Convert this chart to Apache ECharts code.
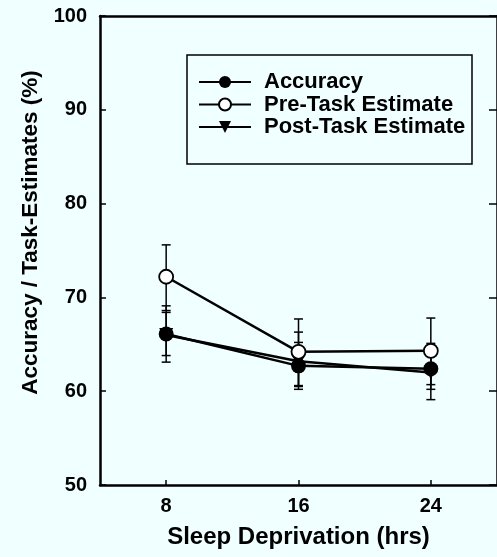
<!DOCTYPE html>
<html>
<head>
<meta charset="utf-8">
<script src="https://cdn.jsdelivr.net/npm/echarts@6/dist/echarts.min.js"></script>
<style>
html,body{margin:0;padding:0;background:#f0ffff;}
#chart{width:497px;height:557px;}
</style>
</head>
<body>
<div id="chart"></div>
<script>
// ---- data ----
var hours = [8, 16, 24];
var xTicks = [8, 16, 24];
var yTicks = [50, 60, 70, 80, 90, 100];

var accuracy     = [66.1, 62.7, 62.4];
var accuracyLow  = [63.1, 60.2, 60.2];
var accuracyHigh = [69.1, 65.2, 65.1];

var preTask      = [72.2, 64.2, 64.3];
var preLow       = [68.6, 60.6, 60.7];
var preHigh      = [75.6, 67.7, 67.8];

var postTask     = [66.0, 63.2, 62.0];
var postLow      = [63.8, 60.5, 59.1];
var postHigh     = [68.4, 66.3, 64.9];

var FONT = '"Liberation Sans", Arial, Helvetica, sans-serif';

function pairs(xs, ys) { return xs.map(function (x, i) { return [x, ys[i]]; }); }
function errData(xs, lo, hi) { return xs.map(function (x, i) { return [x, lo[i], hi[i]]; }); }

function errRender(params, api) {
  var x = api.value(0), lo = api.value(1), hi = api.value(2);
  var pLo = api.coord([x, lo]);
  var pHi = api.coord([x, hi]);
  var cap = 4.5;
  var st = { stroke: '#000', lineWidth: 1.5 };
  return {
    type: 'group',
    children: [
      { type: 'line', shape: { x1: pLo[0], y1: pLo[1], x2: pHi[0], y2: pHi[1] }, style: st },
      { type: 'line', shape: { x1: pLo[0] - cap, y1: pLo[1], x2: pLo[0] + cap, y2: pLo[1] }, style: st },
      { type: 'line', shape: { x1: pHi[0] - cap, y1: pHi[1], x2: pHi[0] + cap, y2: pHi[1] }, style: st }
    ]
  };
}

function errSeries(lo, hi) {
  return {
    type: 'custom', renderItem: errRender, xAxisIndex: 0, yAxisIndex: 0,
    data: errData(hours, lo, hi), z: 1, silent: true,
    encode: { x: 0, y: [1, 2] }
  };
}

var chart = echarts.init(document.getElementById('chart'), null, { renderer: 'canvas' });

var labelStyle = { color: '#000', fontFamily: FONT, fontWeight: 'bold', fontSize: 20 };

var option = {
  backgroundColor: '#f0ffff',
  animation: false,
  grid: { left: 100, top: 16, width: 400, height: 469, containLabel: false },
  xAxis: [
    {
      type: 'value', min: 4, max: 28, position: 'bottom',
      axisLine: { show: true, lineStyle: { color: '#000', width: 2.5 } },
      axisTick: { show: true, inside: true, length: 5, customValues: xTicks, lineStyle: { color: '#000', width: 1.5 } },
      axisLabel: Object.assign({ margin: 11, customValues: xTicks }, labelStyle),
      splitLine: { show: false },
      name: 'Sleep Deprivation (hrs)', nameLocation: 'middle', nameGap: 40,
      nameTextStyle: { color: '#000', fontFamily: FONT, fontWeight: 'bold', fontSize: 24 }
    },
    {
      type: 'value', min: 4, max: 28, position: 'top',
      axisLine: { show: true, lineStyle: { color: '#000', width: 2.5 } },
      axisTick: { show: false }, axisLabel: { show: false }, splitLine: { show: false }
    }
  ],
  yAxis: [
    {
      type: 'value', min: 50, max: 100, interval: 10, position: 'left',
      axisLine: { show: true, lineStyle: { color: '#000', width: 2.5 } },
      axisTick: { show: true, inside: true, length: 6, lineStyle: { color: '#000', width: 1.5 } },
      axisLabel: Object.assign({ margin: 13, formatter: function (v) { return yTicks.indexOf(v) >= 0 ? String(v) : ''; } }, labelStyle),
      splitLine: { show: false },
      name: 'Accuracy / Task-Estimates (%)', nameLocation: 'middle', nameGap: 58, nameRotate: 90,
      nameTextStyle: { color: '#000', fontFamily: FONT, fontWeight: 'bold', fontSize: 22.5, padding: [0, 0, 0, 36] }
    },
    {
      type: 'value', min: 50, max: 100, interval: 10, position: 'right',
      axisLine: { show: true, lineStyle: { color: '#000', width: 2.5 } },
      axisTick: { show: true, inside: true, length: 8, lineStyle: { color: '#000', width: 1.5 } },
      axisLabel: { show: false }, splitLine: { show: false }
    }
  ],
  legend: {
    orient: 'vertical', left: 198, top: 71, padding: 0,
    itemWidth: 52, itemHeight: 15, itemGap: 0.5,
    data: ['Accuracy', 'Pre-Task Estimate', 'Post-Task Estimate'],
    textStyle: { color: '#000', fontFamily: FONT, fontWeight: 'bold', fontSize: 22, lineHeight: 22, padding: [0, 0, 0, 8] }
  },
  graphic: [
    { type: 'rect', shape: { x: 187, y: 55, width: 285, height: 109 }, style: { fill: 'none', stroke: '#000', lineWidth: 1.5 }, z: 10 }
  ],
  series: [
    errSeries(preLow, preHigh),
    errSeries(accuracyLow, accuracyHigh),
    errSeries(postLow, postHigh),
    {
      name: 'Post-Task Estimate', type: 'line', data: pairs(hours, postTask), z: 3,
      symbol: 'triangle', symbolRotate: 180, symbolSize: 14,
      lineStyle: { color: '#000', width: 2.5 },
      itemStyle: { color: '#000', borderColor: '#000', borderWidth: 0 }
    },
    {
      name: 'Accuracy', type: 'line', data: pairs(hours, accuracy), z: 4,
      symbol: 'circle', symbolSize: 15,
      lineStyle: { color: '#000', width: 2.5 },
      itemStyle: { color: '#000', borderColor: '#000', borderWidth: 0 }
    },
    {
      name: 'Pre-Task Estimate', type: 'line', data: pairs(hours, preTask), z: 5,
      symbol: 'circle', symbolSize: 14,
      lineStyle: { color: '#000', width: 2.5 },
      itemStyle: { color: '#ffffff', borderColor: '#000', borderWidth: 1.8 }
    }
  ]
};
chart.setOption(option);
</script>
</body>
</html>
